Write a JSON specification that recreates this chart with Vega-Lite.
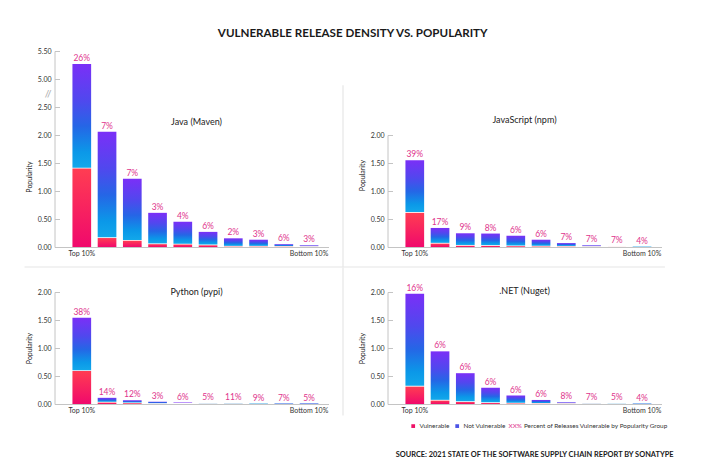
{
  "$schema": "https://vega.github.io/schema/vega-lite/v6.json",
  "background": "white",
  "padding": {"left": 23.5, "top": 28, "right": 0, "bottom": 0},
  "title": {"text": "VULNERABLE RELEASE DENSITY VS. POPULARITY", "font": "Lato", "fontSize": 11.6, "fontWeight": "bold", "color": "#1a1a1a", "anchor": "middle", "frame": "bounds", "dx": 4, "offset": 7},
  "columns": 3,
  "spacing": {"row": 20, "column": 14.5},
  "bounds": "flush",
  "resolve": {"scale": {"color": "independent", "shape": "independent"}, "legend": {"color": "independent", "shape": "independent"}},
  "concat": [
    {
      "width": 274, "height": 196,
      "title": {"text": "Java (Maven)", "offset": -80, "dx": 5, "fontSize": 9, "fontWeight": "normal", "color": "#222222", "frame": "group", "anchor": "middle"},
      "data": {"values": [
        {"rank": 1, "total": 5.27, "vuln": 1.40, "pct": "26%"},
        {"rank": 2, "total": 2.06, "vuln": 0.16, "pct": "7%"},
        {"rank": 3, "total": 1.22, "vuln": 0.11, "pct": "7%"},
        {"rank": 4, "total": 0.61, "vuln": 0.05, "pct": "3%"},
        {"rank": 5, "total": 0.45, "vuln": 0.045, "pct": "4%"},
        {"rank": 6, "total": 0.27, "vuln": 0.03, "pct": "6%"},
        {"rank": 7, "total": 0.155, "vuln": 0.006, "pct": "2%"},
        {"rank": 8, "total": 0.13, "vuln": 0.006, "pct": "3%"},
        {"rank": 9, "total": 0.05, "vuln": 0.004, "pct": "6%"},
        {"rank": 10, "total": 0.03, "vuln": 0.002, "pct": "3%"}
      ]},
      "encoding": {"x": {"field": "rank", "type": "ordinal", "scale": {"paddingInner": 0.26, "paddingOuter": 0.555, "align": 0.64}, "axis": {"title": null, "ticks": false, "labelAngle": 0, "labelPadding": 2, "labelOverlap": false, "labelExpr": "datum.value == 1 ? 'Top 10%' : datum.value == 10 ? 'Bottom 10%' : ''"}}},
      "layer": [
        {"mark": {"type": "bar", "color": {"gradient": "linear", "x1": 0, "y1": 0, "x2": 0, "y2": 1, "stops": [{"offset": 0, "color": "#ff3d52"}, {"offset": 1, "color": "#f0096c"}]}},
         "encoding": {"y": {"field": "vuln", "type": "quantitative", "scale": {"domain": [0, 2.5, 5, 5.5], "range": [196, 56, 28, 0], "nice": false},
           "axis": {"values": [0, 0.5, 1, 1.5, 2, 2.5, 3.75, 5, 5.5], "tickCount": 30, "labelOverlap": false, "labelExpr": "datum.value == 3.75 ? '//' : format(datum.value, '.2f')", "title": "Popularity", "titleY": 125.5,
             "labelColor": {"condition": {"test": "datum.value == 3.75", "value": "#aaaaaa"}, "value": "#333333"},
             "labelFontSize": {"condition": {"test": "datum.value == 3.75", "value": 10}, "value": 7},
             "tickOpacity": {"condition": {"test": "datum.value == 3.75", "value": 0}, "value": 1}}}}},
        {"mark": {"type": "bar", "y2Offset": -0.8, "color": {"gradient": "linear", "x1": 0, "y1": 0, "x2": 0, "y2": 1, "stops": [{"offset": 0, "color": "#7b2ff7"}, {"offset": 0.35, "color": "#5048ee"}, {"offset": 0.6, "color": "#2566e6"}, {"offset": 0.85, "color": "#0b98e8"}, {"offset": 1, "color": "#12a8ea"}]}},
         "encoding": {"y": {"field": "total", "type": "quantitative"}, "y2": {"field": "vuln"}}},
        {"mark": {"type": "text", "baseline": "bottom", "dy": -1, "fontSize": 8.5, "color": "#e0338c"},
         "encoding": {"y": {"field": "total", "type": "quantitative"}, "text": {"field": "pct", "type": "nominal"}}}
      ]
    },
    {
      "width": 29.5, "height": 196,
      "data": {"values": [{}]},
      "mark": {"type": "rule", "color": "#e6e6e6", "strokeWidth": 1.2},
      "encoding": {
        "x": {"datum": 0, "type": "quantitative", "scale": {"domain": [0, 1]}, "axis": null},
        "y": {"datum": -0.103, "type": "quantitative", "scale": {"domain": [0, 1]}, "axis": null},
        "y2": {"datum": 0.8255}
      }
    },
    {
      "width": 274, "height": 196,
      "title": {"text": "JavaScript (npm)", "offset": -74, "fontSize": 9, "fontWeight": "normal", "color": "#222222", "frame": "group", "anchor": "middle"},
      "data": {"values": [
        {"rank": 1, "total": 1.55, "vuln": 0.61, "pct": "39%"},
        {"rank": 2, "total": 0.34, "vuln": 0.06, "pct": "17%"},
        {"rank": 3, "total": 0.245, "vuln": 0.022, "pct": "9%"},
        {"rank": 4, "total": 0.24, "vuln": 0.02, "pct": "8%"},
        {"rank": 5, "total": 0.2, "vuln": 0.013, "pct": "6%"},
        {"rank": 6, "total": 0.13, "vuln": 0.008, "pct": "6%"},
        {"rank": 7, "total": 0.07, "vuln": 0.005, "pct": "7%"},
        {"rank": 8, "total": 0.03, "vuln": 0.002, "pct": "7%"},
        {"rank": 9, "total": 0.015, "vuln": 0.001, "pct": "7%"},
        {"rank": 10, "total": 0.008, "vuln": 0.0005, "pct": "4%"}
      ]},
      "encoding": {"x": {"field": "rank", "type": "ordinal", "scale": {"paddingInner": 0.26, "paddingOuter": 0.555, "align": 0.64}, "axis": {"title": null, "ticks": false, "labelAngle": 0, "labelPadding": 2, "labelOverlap": false, "labelExpr": "datum.value == 1 ? 'Top 10%' : datum.value == 10 ? 'Bottom 10%' : ''"}}},
      "layer": [
        {"mark": {"type": "bar", "color": {"gradient": "linear", "x1": 0, "y1": 0, "x2": 0, "y2": 1, "stops": [{"offset": 0, "color": "#ff3d52"}, {"offset": 1, "color": "#f0096c"}]}},
         "encoding": {"y": {"field": "vuln", "type": "quantitative", "scale": {"domain": [0, 2], "range": [196, 84], "nice": false},
           "axis": {"values": [0, 0.5, 1, 1.5, 2], "tickCount": 30, "labelOverlap": false, "format": ".2f", "title": "Popularity", "titleY": 124}}}},
        {"mark": {"type": "bar", "y2Offset": -0.8, "color": {"gradient": "linear", "x1": 0, "y1": 0, "x2": 0, "y2": 1, "stops": [{"offset": 0, "color": "#7b2ff7"}, {"offset": 0.35, "color": "#5048ee"}, {"offset": 0.6, "color": "#2566e6"}, {"offset": 0.85, "color": "#0b98e8"}, {"offset": 1, "color": "#12a8ea"}]}},
         "encoding": {"y": {"field": "total", "type": "quantitative"}, "y2": {"field": "vuln"}}},
        {"mark": {"type": "text", "baseline": "bottom", "dy": -1, "fontSize": 8.5, "color": "#e0338c"},
         "encoding": {"y": {"field": "total", "type": "quantitative"}, "text": {"field": "pct", "type": "nominal"}}}
      ]
    },
    {
      "width": 274, "height": 4.7,
      "data": {"values": [{}]},
      "mark": {"type": "rule", "color": "#e6e6e6", "strokeWidth": 1.2},
      "encoding": {
        "x": {"datum": -0.1095, "type": "quantitative", "scale": {"domain": [0, 1]}, "axis": null},
        "x2": {"datum": 2.228},
        "y": {"datum": 1, "type": "quantitative", "scale": {"domain": [0, 1]}, "axis": null}
      }
    },
    {"width": 1, "height": 1, "data": {"values": []}, "mark": "point"},
    {"width": 1, "height": 1, "data": {"values": []}, "mark": "point"},
    {
      "width": 274, "height": 112,
      "title": {"text": "Python (pypi)", "offset": -8.8, "dx": 5, "fontSize": 9, "fontWeight": "normal", "color": "#222222", "frame": "group", "anchor": "middle"},
      "data": {"values": [
        {"rank": 1, "total": 1.54, "vuln": 0.59, "pct": "38%"},
        {"rank": 2, "total": 0.11, "vuln": 0.025, "pct": "14%"},
        {"rank": 3, "total": 0.065, "vuln": 0.012, "pct": "12%"},
        {"rank": 4, "total": 0.04, "vuln": 0.001, "pct": "3%"},
        {"rank": 5, "total": 0.025, "vuln": 0.0015, "pct": "6%"},
        {"rank": 6, "total": 0.018, "vuln": 0.001, "pct": "5%"},
        {"rank": 7, "total": 0.012, "vuln": 0.0013, "pct": "11%"},
        {"rank": 8, "total": 0.008, "vuln": 0.0007, "pct": "9%"},
        {"rank": 9, "total": 0.005, "vuln": 0.0003, "pct": "7%"},
        {"rank": 10, "total": 0.004, "vuln": 0.0002, "pct": "5%"}
      ]},
      "encoding": {"x": {"field": "rank", "type": "ordinal", "scale": {"paddingInner": 0.26, "paddingOuter": 0.555, "align": 0.64}, "axis": {"title": null, "ticks": false, "labelAngle": 0, "labelPadding": 2, "labelOverlap": false, "labelExpr": "datum.value == 1 ? 'Top 10%' : datum.value == 10 ? 'Bottom 10%' : ''"}}},
      "layer": [
        {"mark": {"type": "bar", "color": {"gradient": "linear", "x1": 0, "y1": 0, "x2": 0, "y2": 1, "stops": [{"offset": 0, "color": "#ff3d52"}, {"offset": 1, "color": "#f0096c"}]}},
         "encoding": {"y": {"field": "vuln", "type": "quantitative", "scale": {"domain": [0, 2], "nice": false},
           "axis": {"values": [0, 0.5, 1, 1.5, 2], "tickCount": 30, "labelOverlap": false, "format": ".2f", "title": "Popularity"}}}},
        {"mark": {"type": "bar", "y2Offset": -0.8, "color": {"gradient": "linear", "x1": 0, "y1": 0, "x2": 0, "y2": 1, "stops": [{"offset": 0, "color": "#7b2ff7"}, {"offset": 0.35, "color": "#5048ee"}, {"offset": 0.6, "color": "#2566e6"}, {"offset": 0.85, "color": "#0b98e8"}, {"offset": 1, "color": "#12a8ea"}]}},
         "encoding": {"y": {"field": "total", "type": "quantitative"}, "y2": {"field": "vuln"}}},
        {"mark": {"type": "text", "baseline": "bottom", "dy": -1, "fontSize": 8.5, "color": "#e0338c"},
         "encoding": {"y": {"field": "total", "type": "quantitative"}, "text": {"field": "pct", "type": "nominal"}}}
      ]
    },
    {
      "width": 29.5, "height": 112,
      "data": {"values": [{}]},
      "mark": {"type": "rule", "color": "#e6e6e6", "strokeWidth": 1.2},
      "encoding": {
        "x": {"datum": 0, "type": "quantitative", "scale": {"domain": [0, 1]}, "axis": null},
        "y": {"datum": -0.103, "type": "quantitative", "scale": {"domain": [0, 1]}, "axis": null},
        "y2": {"datum": 1.219}
      }
    },
    {
      "width": 274, "height": 112,
      "title": {"text": ".NET (Nuget)", "offset": -12.8, "fontSize": 9, "fontWeight": "normal", "color": "#222222", "frame": "group", "anchor": "middle"},
      "data": {"values": [
        {"rank": 1, "total": 1.97, "vuln": 0.31, "pct": "16%"},
        {"rank": 2, "total": 0.94, "vuln": 0.06, "pct": "6%"},
        {"rank": 3, "total": 0.55, "vuln": 0.035, "pct": "6%"},
        {"rank": 4, "total": 0.29, "vuln": 0.017, "pct": "6%"},
        {"rank": 5, "total": 0.15, "vuln": 0.009, "pct": "6%"},
        {"rank": 6, "total": 0.072, "vuln": 0.004, "pct": "6%"},
        {"rank": 7, "total": 0.03, "vuln": 0.0024, "pct": "8%"},
        {"rank": 8, "total": 0.018, "vuln": 0.0013, "pct": "7%"},
        {"rank": 9, "total": 0.012, "vuln": 0.0006, "pct": "5%"},
        {"rank": 10, "total": 0.006, "vuln": 0.0002, "pct": "4%"}
      ]},
      "encoding": {"x": {"field": "rank", "type": "ordinal", "scale": {"paddingInner": 0.26, "paddingOuter": 0.555, "align": 0.64}, "axis": {"title": null, "ticks": false, "labelAngle": 0, "labelPadding": 2, "labelOverlap": false, "labelExpr": "datum.value == 1 ? 'Top 10%' : datum.value == 10 ? 'Bottom 10%' : ''"}}},
      "layer": [
        {"mark": {"type": "bar", "color": {"gradient": "linear", "x1": 0, "y1": 0, "x2": 0, "y2": 1, "stops": [{"offset": 0, "color": "#ff3d52"}, {"offset": 1, "color": "#f0096c"}]}},
         "encoding": {"y": {"field": "vuln", "type": "quantitative", "scale": {"domain": [0, 2], "nice": false},
           "axis": {"values": [0, 0.5, 1, 1.5, 2], "tickCount": 30, "labelOverlap": false, "format": ".2f", "title": "Popularity"}}}},
        {"mark": {"type": "bar", "y2Offset": -0.8, "color": {"gradient": "linear", "x1": 0, "y1": 0, "x2": 0, "y2": 1, "stops": [{"offset": 0, "color": "#7b2ff7"}, {"offset": 0.35, "color": "#5048ee"}, {"offset": 0.6, "color": "#2566e6"}, {"offset": 0.85, "color": "#0b98e8"}, {"offset": 1, "color": "#12a8ea"}]}},
         "encoding": {"y": {"field": "total", "type": "quantitative"}, "y2": {"field": "vuln"}}},
        {"mark": {"type": "text", "baseline": "bottom", "dy": -1, "fontSize": 8.5, "color": "#e0338c"},
         "encoding": {"y": {"field": "total", "type": "quantitative"}, "text": {"field": "pct", "type": "nominal"}}},
        {"data": {"values": [{"item": "Vulnerable"}, {"item": "Not Vulnerable"}]},
         "mark": {"type": "square", "opacity": 0},
         "encoding": {
           "x": {"datum": 1, "type": "ordinal"},
           "color": {"field": "item", "type": "nominal",
             "scale": {"domain": ["Vulnerable", "Not Vulnerable"], "range": ["#ee1166", "#4b53e6"]},
             "legend": {"orient": "none", "legendX": 22.5, "legendY": 130.7, "direction": "horizontal", "title": null, "symbolType": "square", "symbolSize": 14, "symbolOpacity": 1, "symbolStrokeWidth": 0, "labelFontSize": 6.4, "labelColor": "#333333", "labelLimit": 400, "columnPadding": 4, "labelOffset": 3, "padding": 0}}
         }},
        {"data": {"values": [{"note": "Percent of Releases Vulnerable by Popularity Group"}]},
         "mark": {"type": "point", "opacity": 0},
         "encoding": {
           "x": {"datum": 1, "type": "ordinal"},
           "shape": {"field": "note", "type": "nominal",
             "legend": {"orient": "none", "legendX": 121, "legendY": 130.7, "direction": "horizontal", "title": "XX%", "titleOrient": "left", "titleColor": "#e0338c", "titleFontSize": 6.4, "titleFontWeight": "normal", "titlePadding": -5, "symbolSize": 0, "symbolOpacity": 0, "symbolStrokeWidth": 0, "labelOffset": 0, "labelFontSize": 6.4, "labelColor": "#333333", "labelLimit": 400, "padding": 0}}
         }}
      ]
    },
    {"width": 1, "height": 1, "data": {"values": []}, "mark": "point"},
    {"width": 1, "height": 1, "data": {"values": []}, "mark": "point"},
    {
      "width": 274, "height": 20,
      "data": {"values": []},
      "mark": "point",
      "title": {"text": "SOURCE: 2021 STATE OF THE SOFTWARE SUPPLY CHAIN REPORT BY SONATYPE", "orient": "bottom", "anchor": "end", "frame": "group", "offset": 7, "dx": 12, "fontSize": 7.4, "fontWeight": "bold", "color": "#1a1a1a"}
    }
  ],
  "config": {
    "font": "Lato",
    "view": {"stroke": null},
    "axis": {"domainColor": "#c4c4c4", "tickColor": "#c4c4c4", "labelColor": "#333333", "labelFontSize": 7, "titleFontSize": 7, "titleFontWeight": "normal", "titleColor": "#222222", "labelFont": "Lato", "titleFont": "Lato", "grid": false},
    "axisY": {"tickSize": -5, "labelPadding": 8.4, "titlePadding": 5, "labelOverlap": false},
    "title": {"font": "Lato"}
  }
}
